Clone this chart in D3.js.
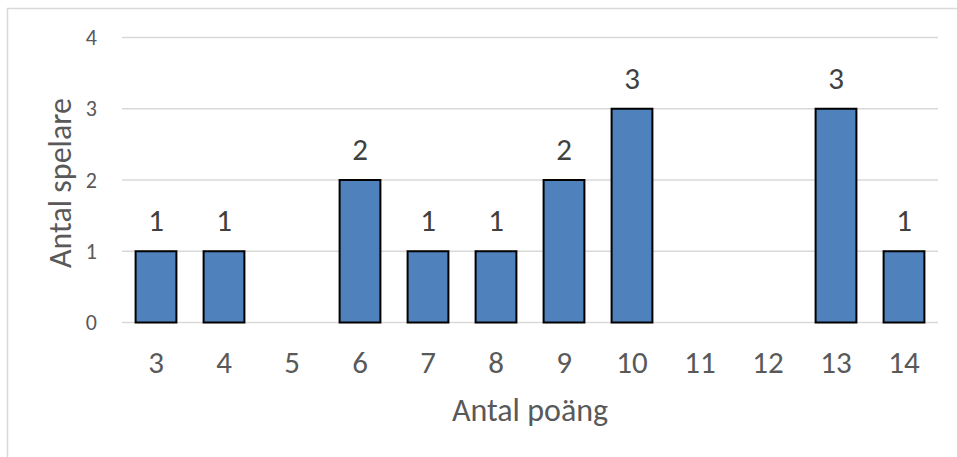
<html>
  <head>
    <style>
      body
      {
        margin     : 0;
        background : #ffffff;
      }
      text
      {
        font-family : Carlito, "Open Sans", sans-serif;
      }
    </style>
  </head>
  <body>
    <svg width="957" height="457"></svg>
    <script src="https://d3js.org/d3.v7.min.js"></script>
    <script>
      var categories = ["3", "4", "5", "6", "7", "8", "9", "10", "11", "12", "13", "14"],
          players    = [1, 1, 0, 2, 1, 1, 2, 3, 0, 0, 3, 1],
          yTicks     = [0, 1, 2, 3, 4];

      var svg = d3.select("svg");

      // chart frame (only top and left edges show)
      svg.append("path")
          .attr("d", "M7.5,457V8.5H957")
          .attr("fill", "none")
          .attr("stroke", "#d9d9d9")
          .attr("stroke-width", 1.5);

      var x = d3.scaleBand()
          .domain(categories)
          .range([122, 938])
          .paddingInner(0.4)
          .paddingOuter(0.2);

      var y = d3.scaleLinear()
          .domain([0, 4])
          .range([322.5, 37.5]);

      // gridlines
      svg.append("g")
          .selectAll("line")
          .data(yTicks)
          .enter().append("line")
          .attr("x1", 122)
          .attr("x2", 938)
          .attr("y1", function(d) { return y(d); })
          .attr("y2", function(d) { return y(d); })
          .attr("stroke", "#d9d9d9")
          .attr("stroke-width", 1.5);

      // y axis labels
      var yAxis = svg.append("g")
          .attr("transform", "translate(105,0)")
          .call(d3.axisLeft(y).tickValues(yTicks).tickFormat(d3.format("d")).tickSize(0).tickPadding(8));
      yAxis.select(".domain").remove();
      yAxis.selectAll("text")
          .attr("font-family", "Carlito, 'Open Sans', sans-serif")
          .attr("font-size", 22)
          .attr("fill", "#595959");

      // bars
      var bars = players.map(function(v, i) { return { cat: categories[i], value: v }; });

      svg.append("g")
          .selectAll("rect")
          .data(bars.filter(function(d) { return d.value > 0; }))
          .enter().append("rect")
          .attr("x", function(d) { return x(d.cat); })
          .attr("y", function(d) { return y(d.value); })
          .attr("width", x.bandwidth())
          .attr("height", function(d) { return y(0) - y(d.value); })
          .attr("fill", "#4f81bd")
          .attr("stroke", "#000000")
          .attr("stroke-width", 2);

      // data labels
      svg.append("g")
          .selectAll("text")
          .data(bars.filter(function(d) { return d.value > 0; }))
          .enter().append("text")
          .attr("x", function(d) { return x(d.cat) + x.bandwidth() / 2; })
          .attr("y", function(d) { return y(d.value) - 20; })
          .attr("text-anchor", "middle")
          .attr("font-size", 31)
          .attr("fill", "#404040")
          .text(function(d) { return d.value; });

      // x axis labels
      var xAxis = svg.append("g")
          .attr("transform", "translate(0,322.5)")
          .call(d3.axisBottom(x).tickSize(0).tickPadding(28.5));
      xAxis.select(".domain").remove();
      xAxis.selectAll("text")
          .attr("font-family", "Carlito, 'Open Sans', sans-serif")
          .attr("font-size", 31)
          .attr("fill", "#595959");

      // axis titles
      svg.append("text")
          .attr("x", 530)
          .attr("y", 421)
          .attr("text-anchor", "middle")
          .attr("font-size", 32)
          .attr("fill", "#595959")
          .text("Antal poäng");

      svg.append("text")
          .attr("transform", "translate(71,183) rotate(-90)")
          .attr("text-anchor", "middle")
          .attr("font-size", 32)
          .attr("fill", "#595959")
          .text("Antal spelare");
    </script>
  </body>
</html>
